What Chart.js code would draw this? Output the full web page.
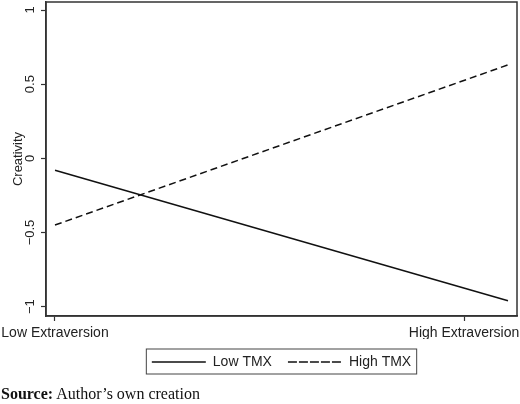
<!DOCTYPE html>
<html>
<head>
<meta charset="utf-8">
<script src="https://cdn.jsdelivr.net/npm/chart.js@4"></script>
<style>
  body { margin: 0; background: #fff; }
  #wrap { position: relative; width: 520px; height: 404px; }
  #caption {
    position: absolute; left: 1px; top: 385px;
    font: 16px/18px "Liberation Serif", "Times New Roman", serif; color: #111;
  }
</style>
</head>
<body>
<div id="wrap">
  <canvas id="chart" width="520" height="404"></canvas>
  <div id="caption"><b>Source:</b> Author’s own creation</div>
</div>
<script>
// x positions of the two line ends (Low .. a bit past High extraversion)
const extraversionX = [-1, 1.215];
const lowTMX = [-0.08, -0.96];
const highTMX = [-0.45, 0.63];

const xTicks = [-1, 1];
const xTickLabels = ['Low Extraversion', 'High Extraversion'];
const yTicks = [-1, -0.5, 0, 0.5, 1];
const yTickLabels = ['−1', '−0.5', '0', '0.5', '1'];

const ink = '#222';
const frame = '#333';

function points(ys) {
    return extraversionX.map((x, i) => ({ x: x, y: ys[i] }));
}

// box round the plot area and round the legend
const boxes = {
    id: 'boxes',
    afterDraw(chart) {
        const ctx = chart.ctx;
        const a = chart.chartArea;
        ctx.save();
        ctx.strokeStyle = frame;
        ctx.lineWidth = 1.5;
        ctx.strokeRect(a.left, a.top, a.right - a.left, a.bottom - a.top);

        const hb = chart.legend.legendHitBoxes;
        if (hb && hb.length) {
            const first = hb[0], last = hb[hb.length - 1];
            const cy = first.top + first.height / 2;
            ctx.strokeStyle = '#444';
            ctx.lineWidth = 1;
            ctx.strokeRect(first.left - 5.5, cy - 13, last.left + last.width - first.left + 11, 25);
        }
        ctx.restore();
    }
};

const ctx = document.getElementById('chart').getContext('2d');
const chart = new Chart(ctx, {
    type: 'line',
    data: {
        datasets: [
            {
                label: 'Low TMX',
                data: points(lowTMX),
                borderColor: '#111',
                backgroundColor: '#111',
                borderWidth: 1.5,
                pointRadius: 0
            },
            {
                label: 'High TMX',
                data: points(highTMX),
                borderColor: '#111',
                backgroundColor: '#111',
                borderWidth: 1.5,
                borderDash: [7, 4],
                pointRadius: 0
            }
        ]
    },
    options: {
        responsive: false,
        animation: false,
        layout: { padding: { left: 0, top: 2, right: 3, bottom: 25 } },
        plugins: {
            tooltip: { enabled: false },
            legend: {
                position: 'bottom',
                fullSize: false,
                labels: {
                    boxWidth: 54,
                    boxHeight: 0,
                    padding: 16,
                    color: ink,
                    font: { family: '"Liberation Sans", Arial, sans-serif', size: 14 }
                }
            }
        },
        scales: {
            x: {
                type: 'linear',
                min: -1.044,
                max: 1.259,
                afterBuildTicks: s => { s.ticks = xTicks.map(v => ({ value: v })); },
                afterFit: s => { s.height = 23; s.paddingLeft = 0; s.paddingRight = 0; },
                grid: { drawOnChartArea: false, drawTicks: true, tickLength: 5, tickColor: frame, tickWidth: 1.2 },
                border: { color: frame, width: 1.5 },
                ticks: {
                    maxRotation: 0,
                    autoSkip: false,
                    padding: 4,
                    color: ink,
                    font: { family: '"Liberation Sans", Arial, sans-serif', size: 14 },
                    callback: (v, i) => xTickLabels[i]
                }
            },
            y: {
                type: 'linear',
                min: -1.063,
                max: 1.054,
                afterBuildTicks: s => { s.ticks = yTicks.map(v => ({ value: v })); },
                afterFit: s => { s.width = 46; s.paddingTop = 0; s.paddingBottom = 0; },
                grid: { drawOnChartArea: false, drawTicks: true, tickLength: 5, tickColor: frame, tickWidth: 1.2 },
                border: { color: frame, width: 1.5 },
                title: {
                    display: true,
                    text: 'Creativity',
                    color: ink,
                    padding: { top: 11, bottom: 0 },
                    font: { family: '"Liberation Sans", Arial, sans-serif', size: 13 }
                },
                ticks: {
                    minRotation: 90,
                    maxRotation: 90,
                    crossAlign: 'center',
                    padding: -2,
                    color: ink,
                    font: { family: '"Liberation Sans", Arial, sans-serif', size: 13 },
                    callback: (v, i) => yTickLabels[i]
                }
            }
        }
    },
    plugins: [boxes]
});
</script>
</body>
</html>
